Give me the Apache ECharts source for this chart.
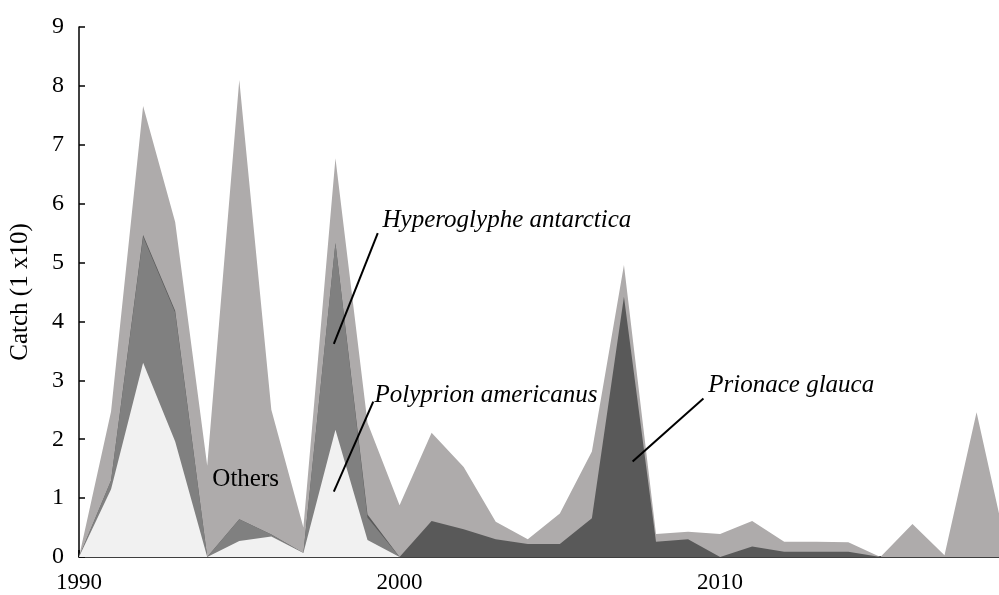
<!DOCTYPE html>
<html>
<head>
<meta charset="utf-8">
<script src="https://cdn.jsdelivr.net/npm/echarts@6/dist/echarts.min.js"></script>
<style>
  html, body { margin: 0; padding: 0; background: #fff; }
  #main { width: 999px; height: 595px; }
</style>
</head>
<body>
<div id="main"></div>
<script>
// years on the x axis
var years = [1990, 1991, 1992, 1993, 1994, 1995, 1996, 1997, 1998, 1999,
             2000, 2001, 2002, 2003, 2004, 2005, 2006, 2007, 2008, 2009,
             2010, 2011, 2012, 2013, 2014, 2015, 2016, 2017, 2018, 2019];

// catch per species (x10), stacked bottom -> top
var polyprion = [0, 1.15, 3.30, 1.96, 0, 0.27, 0.35, 0.07, 2.16, 0.29,
                 0, 0, 0, 0, 0, 0, 0, 0, 0, 0,
                 0, 0, 0, 0, 0, 0, 0, 0, 0, 0];
var hyperoglyphe = [0, 0.15, 2.14, 2.19, 0, 0.37, 0.03, 0, 3.17, 0.38,
                    0, 0, 0, 0, 0, 0, 0, 0, 0, 0,
                    0, 0, 0, 0, 0, 0, 0, 0, 0, 0];
var prionace = [0, 0, 0.03, 0.03, 0, 0, 0, 0, 0, 0.05,
                0, 0.61, 0.47, 0.30, 0.22, 0.22, 0.66, 4.42, 0.26, 0.30,
                0, 0.18, 0.09, 0.09, 0.09, 0, 0, 0, 0, 0];
var others = [0, 1.17, 2.19, 1.51, 1.55, 7.46, 2.12, 0.43, 1.44, 1.56,
              0.88, 1.50, 1.06, 0.30, 0.08, 0.52, 1.13, 0.54, 0.13, 0.13,
              0.39, 0.43, 0.17, 0.17, 0.16, 0, 0.56, 0.03, 2.46, 0];

var yTicks = [0, 1, 2, 3, 4, 5, 6, 7, 8, 9];

// annotation texts and leader lines, in data units
var notes = [
  { text: 'Hyperoglyphe antarctica', at: [1999.47, 5.72], italic: true },
  { text: 'Polyprion americanus', at: [1999.22, 2.75], italic: true },
  { text: 'Prionace glauca', at: [2009.63, 2.92], italic: true },
  { text: 'Others', at: [1995.2, 1.31], italic: false, center: true }
];
var leaders = [
  [[1997.95, 3.62], [1999.32, 5.50]],
  [[1997.95, 1.11], [1999.18, 2.64]],
  [[2007.27, 1.62], [2009.48, 2.69]]
];

var FONT = "'Liberation Serif', 'Times New Roman', serif";

// stack order, bottom first
var layers = [
  { name: 'Polyprion americanus', vals: polyprion, color: '#f1f1f1' },
  { name: 'Hyperoglyphe antarctica', vals: hyperoglyphe, color: '#808080' },
  { name: 'Prionace glauca', vals: prionace, color: '#595959' },
  { name: 'Others', vals: others, color: '#aeabab' }
];

// running totals so each band sits on the ones below it
var running = years.map(function () { return 0; });
var series = [];
layers.forEach(function (l, k) {
  running = running.map(function (s, i) { return s + l.vals[i]; });
  series.push({
    name: l.name,
    type: 'line',
    data: years.map(function (y, i) { return [y, running[i]]; }),
    symbol: 'none',
    lineStyle: { width: 0 },
    areaStyle: { color: l.color, opacity: 1 },
    itemStyle: { color: l.color },
    z: 10 - k,
    silent: true
  });
});

var chart = echarts.init(document.getElementById('main'));

var option = {
  animation: false,
  backgroundColor: '#fff',
  grid: { left: 78, right: 0, top: 27, bottom: 38 },
  xAxis: {
    type: 'value',
    min: 1990,
    max: 2018.7,
    interval: 10,
    axisLine: { show: true, lineStyle: { color: '#000', width: 1.5 } },
    axisTick: { show: true, inside: true, length: 7, lineStyle: { color: '#000', width: 1.5 } },
    axisLabel: {
      color: '#000', fontFamily: FONT, fontSize: 23, margin: 14,
      showMaxLabel: false,
      formatter: function (v) { return String(v); }
    },
    splitLine: { show: false }
  },
  yAxis: {
    type: 'value',
    min: yTicks[0],
    max: yTicks[yTicks.length - 1],
    interval: 1,
    name: 'Catch (1 x10)',
    nameLocation: 'middle',
    nameGap: 46,
    nameTextStyle: { color: '#000', fontFamily: FONT, fontSize: 25 },
    axisLine: { show: true, lineStyle: { color: '#000', width: 1.5 } },
    axisTick: { show: true, inside: true, length: 6, lineStyle: { color: '#000', width: 1.5 } },
    axisLabel: { color: '#000', fontFamily: FONT, fontSize: 24, margin: 15 },
    splitLine: { show: false }
  },
  series: series
};

chart.setOption(option);

// place annotations through the chart's own coordinate system
var g = [];
leaders.forEach(function (l) {
  var a = chart.convertToPixel({ gridIndex: 0 }, l[0]);
  var b = chart.convertToPixel({ gridIndex: 0 }, l[1]);
  g.push({
    type: 'line',
    shape: { x1: a[0], y1: a[1], x2: b[0], y2: b[1] },
    style: { stroke: '#000', lineWidth: 2 },
    z: 100
  });
});
notes.forEach(function (n) {
  var p = chart.convertToPixel({ gridIndex: 0 }, n.at);
  g.push({
    type: 'text',
    x: p[0],
    y: p[1],
    style: {
      text: n.text,
      fill: '#000',
      font: (n.italic ? 'italic ' : '') + '25px ' + FONT,
      align: n.center ? 'center' : 'left',
      verticalAlign: 'middle'
    },
    z: 100
  });
});
chart.setOption({ graphic: g });
</script>
</body>
</html>
